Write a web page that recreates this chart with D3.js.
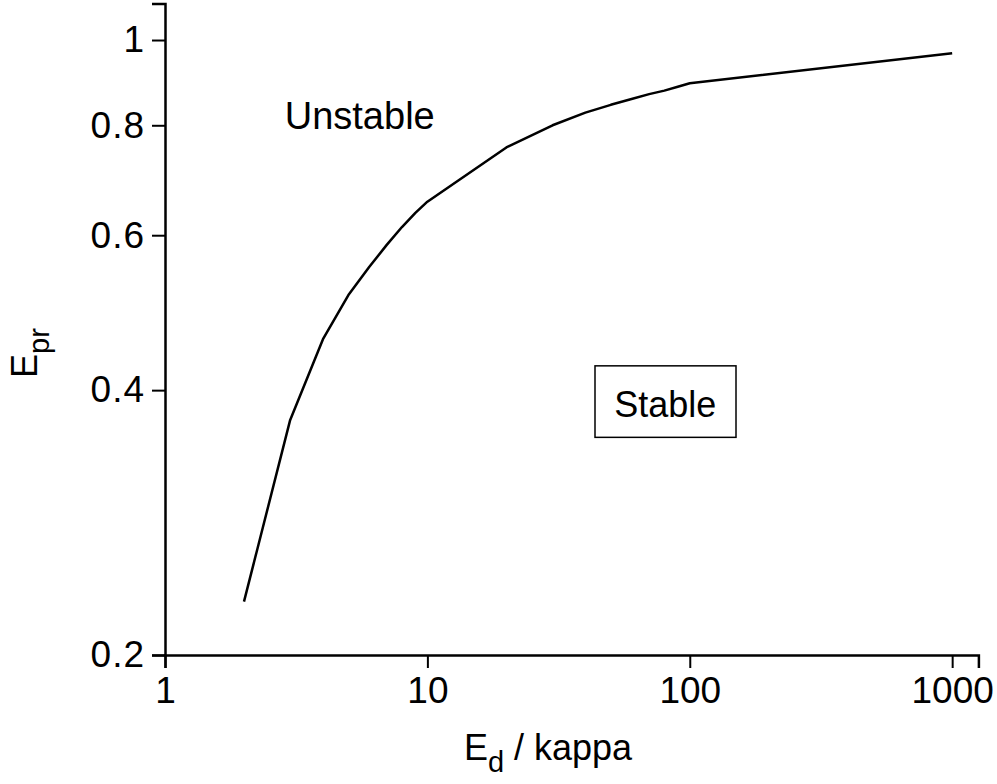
<!DOCTYPE html>
<html>
<head>
<meta charset="utf-8">
<script src="https://cdn.jsdelivr.net/npm/d3@7"></script>
<style>
  html, body { margin: 0; padding: 0; background: #fff; }
  svg { display: block; }
  text { font-family: "Liberation Sans", Arial, Helvetica, sans-serif; fill: #000; }
</style>
</head>
<body>
<svg id="chart" width="997" height="784"></svg>
<script>
// ---- data ----
const ratio = [2, 3, 4, 5, 6, 7, 8, 9, 10, 20, 30, 40, 50, 60, 70, 80, 90, 100, 1000];
const epr   = [0.230, 0.370, 0.457, 0.513, 0.552, 0.585, 0.613, 0.636, 0.655, 0.755, 0.800, 0.827, 0.844, 0.857, 0.868, 0.876, 0.885, 0.893, 0.966];
const xMajorTicks = [1, 10, 100, 1000];
const xMajorLabels = ["1", "10", "100", "1000"];
const yMajorTicks = [0.2, 0.4, 0.6, 0.8, 1];
const yMajorLabels = ["0.2", "0.4", "0.6", "0.8", "1"];
const regionLabels = ["Unstable", "Stable"];
const regionX = [2.86, 51.5];
const regionY = [0.792, 0.373];

// ---- scales ----
const svg = d3.select("#chart");
const x = d3.scaleLog().domain([1, Math.pow(10, 3.1)]).range([165, 978.4]);
const y = d3.scaleLog().domain([0.2, 1.1]).range([655, 3.6]);

// minor ticks
const xMinor = [];
[1, 10, 100, 1000].forEach(d => { for (let k = 2; k <= 9; k++) if (d * k <= x.domain()[1]) xMinor.push(d * k); });
const yMinor = [];
for (let i = 0; i < yMajorTicks.length; i++) {
  for (let k = 1; k <= 8; k++) {
    const v = yMajorTicks[i] + k * 0.2 / 9;
    if (v <= y.domain()[1]) yMinor.push(v);
  }
}

const fs = 37;

// x axis
const gx = svg.append("g").attr("transform", `translate(0,${y(0.2)})`);
gx.call(d3.axisBottom(x).tickValues(xMinor).tickSize(8).tickFormat(""));
gx.call(d3.axisBottom(x).tickValues(xMajorTicks).tickSize(13).tickPadding(9)
  .tickFormat((d, i) => xMajorLabels[i]));
// y axis
const gy = svg.append("g").attr("transform", `translate(${x(1)},0)`);
gy.call(d3.axisLeft(y).tickValues(yMinor).tickSize(8).tickFormat(""));
gy.call(d3.axisLeft(y).tickValues(yMajorTicks).tickSize(13).tickPadding(7)
  .tickFormat((d, i) => yMajorLabels[i]));

svg.selectAll(".domain").attr("stroke", "#000").attr("stroke-width", 2.5);
svg.selectAll(".tick line").attr("stroke", "#000").attr("stroke-width", 2);
svg.selectAll(".tick text").style("font-size", fs + "px").attr("fill", "#000")
  .style("font-family", '"Liberation Sans", Arial, sans-serif');
gy.selectAll(".tick text").style("letter-spacing", "1px");

// curve
const pts = ratio.map((r, i) => [r, epr[i]]);
svg.append("path")
  .datum(pts)
  .attr("fill", "none")
  .attr("stroke", "#000")
  .attr("stroke-width", 2.5)
  .attr("stroke-linejoin", "round")
  .attr("d", d3.line().x(d => x(d[0])).y(d => y(d[1])));

// region labels
svg.append("text")
  .attr("x", x(regionX[0])).attr("y", y(regionY[0]))
  .style("font-size", "38px").text(regionLabels[0]);
const tS = svg.append("text")
  .attr("x", x(regionX[1])).attr("y", y(regionY[1]))
  .style("font-size", "36px").text(regionLabels[1]);
const bb = tS.node().getBBox();
svg.append("rect")
  .attr("x", 595).attr("y", bb.y - 18)
  .attr("width", 141).attr("height", bb.height + 30.5)
  .attr("fill", "none").attr("stroke", "#000").attr("stroke-width", 1.5);

// axis titles
const xt = svg.append("text")
  .attr("x", 548).attr("y", 760)
  .attr("text-anchor", "middle")
  .style("font-size", "36px");
xt.append("tspan").text("E");
xt.append("tspan").attr("dy", "0.42em").style("font-size", "29px").text("d");
xt.append("tspan").attr("dy", "-0.35em").text(" / kappa");

const yt = svg.append("text")
  .attr("transform", "translate(37,353) rotate(-90)")
  .attr("text-anchor", "middle")
  .style("font-size", "36px");
yt.append("tspan").text("E");
yt.append("tspan").attr("dy", "0.42em").style("font-size", "29px").text("pr");
</script>
</body>
</html>
